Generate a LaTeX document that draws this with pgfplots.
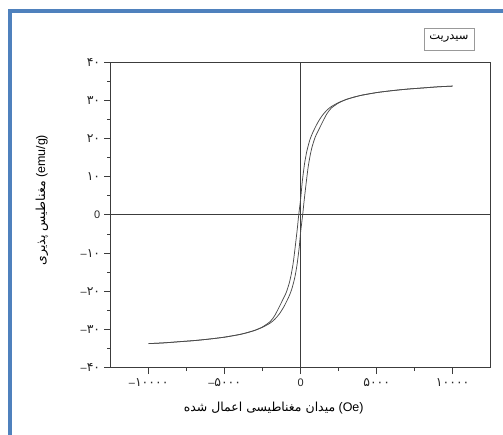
\documentclass[border=0pt]{standalone}
\usepackage{fontspec}
\usepackage{pgfplots}
\pgfplotsset{compat=1.18}
\setmainfont{Liberation Sans}
\newfontfamily\arabicfont[Script=Arabic]{DejaVu Sans}
\TeXXeTstate=1
\definecolor{frameblue}{HTML}{4F81BD}
\definecolor{axgray}{HTML}{3C3C3C}
\definecolor{curvegray}{HTML}{4A4A4A}
\newcommand{\fa}[1]{{\arabicfont\fontsize{12.5}{13}\selectfont #1}}
\begin{document}
\begin{tikzpicture}
\path[use as bounding box] (0,0) rectangle (503bp,435bp);
\begin{scope}
\clip (0,0) rectangle (503bp,435bp);
\draw[frameblue, line width=4bp] (9.5bp,-10bp) -- (9.5bp,424bp) -- (520bp,424bp);
\end{scope}
\begin{axis}[
  at={(110.7bp,67.3bp)}, anchor=south west, scale only axis,
  width=380bp, height=305.7bp,
  xmin=-12500, xmax=12500, ymin=-40, ymax=40,
  xtick={-10000,-5000,0,5000,10000},
  xticklabels={\textendash\fa{۱۰۰۰۰},\textendash\fa{۵۰۰۰},0,\fa{۵۰۰۰},\fa{۱۰۰۰۰}},
  ytick={-40,-30,-20,-10,0,10,20,30,40},
  yticklabels={\textendash\fa{۴۰},\textendash\fa{۳۰},\textendash\fa{۲۰},\textendash\fa{۱۰},0,\fa{۱۰},\fa{۲۰},\fa{۳۰},\fa{۴۰}},
  scaled x ticks=false, scaled y ticks=false,
  minor x tick num=1, minor y tick num=1,
  tick pos=left, tick align=outside,
  major tick length=6.5bp, minor tick length=3.5bp,
  axis line style={axgray, line width=0.9bp},
  every tick/.style={axgray, line width=0.8bp},
  tick label style={font=\fontsize{11}{12}\selectfont, text=black!85},
  xticklabel style={yshift=-1bp},
  yticklabel style={xshift=-0.5bp},
  xlabel={{\arabicfont\beginR میدان مغناطیسی اعمال شده\endR} (Oe)},
  ylabel={{\arabicfont\beginR مغناطیس پذیری\endR} (emu/g)},
  every axis x label/.style={at={(rel axis cs:0.429,-0.1308)}, anchor=center, font=\fontsize{12.5}{14}\selectfont},
  every axis y label/.style={at={(rel axis cs:-0.1808,0.5486)}, rotate=90, anchor=center, font=\fontsize{12.5}{14}\selectfont},
  clip=false,
]
\addplot[axgray, line width=0.9bp] coordinates {(-12500,0) (12500,0)};
\addplot[axgray, line width=0.9bp] coordinates {(0,-40) (0,40)};
% descending branch
\addplot[curvegray, line width=0.75bp, smooth, tension=0.4] coordinates {
(10000,33.7)(9000,33.5)(8000,33.2)(7000,32.9)(6000,32.5)(5000,32.0)(4000,31.3)(3500,30.8)(3000,30.2)(2500,29.4)(2000,28.3)(1700,27.3)(1400,25.9)(1100,24.0)(800,21.6)(600,19.6)(400,16.6)(250,13.3)(100,8.6)(0,4.3)(-130,0)(-220,-3.5)(-350,-8)(-490,-12.5)(-620,-15.5)(-750,-17.8)(-950,-20.3)(-1190,-22.3)(-1400,-24.0)(-1700,-26.3)(-2000,-27.9)(-2500,-29.3)(-3000,-30.2)(-3500,-30.8)(-4000,-31.3)(-5000,-32.0)(-6000,-32.5)(-7000,-32.9)(-8000,-33.2)(-9000,-33.5)(-10000,-33.7)
};
% ascending branch
\addplot[curvegray, line width=0.75bp, smooth, tension=0.4] coordinates {
(-10000,-33.7)(-9000,-33.5)(-8000,-33.2)(-7000,-32.9)(-6000,-32.5)(-5000,-32.0)(-4000,-31.3)(-3500,-30.8)(-3000,-30.2)(-2500,-29.4)(-2000,-28.3)(-1700,-27.3)(-1400,-25.9)(-1100,-24.0)(-800,-21.6)(-600,-19.6)(-400,-16.6)(-250,-13.3)(-100,-8.6)(0,-4.3)(130,0)(220,3.5)(350,8)(490,12.5)(620,15.5)(750,17.8)(950,20.3)(1190,22.3)(1400,24.0)(1700,26.3)(2000,27.9)(2500,29.3)(3000,30.2)(3500,30.8)(4000,31.3)(5000,32.0)(6000,32.5)(7000,32.9)(8000,33.2)(9000,33.5)(10000,33.7)
};
\end{axis}
\node[draw=black!40, line width=0.7bp, minimum width=50bp, minimum height=22bp, inner sep=1bp, font=\arabicfont\fontsize{11.5}{13}\selectfont] at (449bp,396bp) {\beginR سیدریت\endR};
\end{tikzpicture}
\end{document}
